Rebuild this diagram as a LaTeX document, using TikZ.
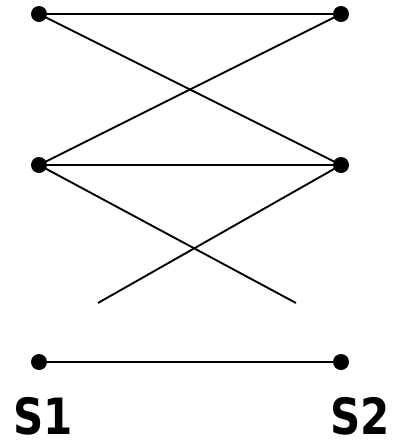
\documentclass[tikz,border=0pt]{standalone}
\usepackage{fontspec}
\newfontfamily\lblfont[FakeStretch=0.84]{DejaVu Sans Bold}
\begin{document}
\begin{tikzpicture}[x=1pt, y=-1pt, line width=1.9pt,
  dot/.style={circle, fill, inner sep=0pt, minimum size=16pt},
  lbl/.style={font=\lblfont\fontsize{50}{50}\selectfont, anchor=base, inner sep=0pt}]
  \useasboundingbox (0,0) rectangle (392,440);
  % the three rows of points
  \node[dot] (l1) at (39,14) {};
  \node[dot] (r1) at (341,14) {};
  \node[dot] (l2) at (39,165) {};
  \node[dot] (r2) at (341,165) {};
  \node[dot] (l3) at (39,362) {};
  \node[dot] (r3) at (341,362) {};
  \coordinate (e1) at (98,303);
  \coordinate (e2) at (296,303);

  \draw (l1.center) -- (r1.center);
  \draw (l1.center) -- (r2.center);
  \draw (r1.center) -- (l2.center);
  \draw (l2.center) -- (r2.center);
  \draw (l2.center) -- (e2);
  \draw (r2.center) -- (e1);
  \draw (l3.center) -- (r3.center);

  \node[lbl] (s1) at (43,434) {S1};
  \node[lbl] (s2) at (360,434) {S2};
\end{tikzpicture}
\end{document}
